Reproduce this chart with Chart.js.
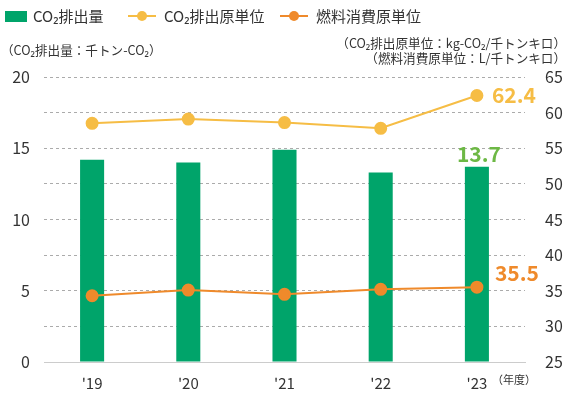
<!DOCTYPE html>
<html><head><meta charset="utf-8">
<script src="https://cdn.jsdelivr.net/npm/chart.js@4/dist/chart.umd.min.js"></script>
<style>html,body{margin:0;padding:0;background:#fff}#wrap{position:relative;width:568px;height:394px}</style>
</head><body><div id="wrap"><canvas id="c" width="568" height="394"></canvas></div>
<script>
const categories = ["'19", "'20", "'21", "'22", "'23"];
const co2Emissions = [14.2, 14.0, 14.9, 13.3, 13.7];
const co2Intensity = [58.5, 59.1, 58.6, 57.8, 62.4];
const fuelIntensity = [34.3, 35.1, 34.5, 35.2, 35.5];
const leftTicks = [0, 5, 10, 15, 20];
const rightTicks = [25, 30, 35, 40, 45, 50, 55, 60, 65];

const FONT = "'Noto Sans CJK JP', 'Noto Sans', sans-serif";
const GREEN = '#00A46A', YELLOW = '#F6BD45', ORANGE = '#EF8A2B';

const decor = {
  id: 'decor',
  afterDraw(chart) {
    const ctx = chart.ctx;
    ctx.save();
    ctx.textBaseline = 'middle';
    // legend
    ctx.fillStyle = GREEN; ctx.fillRect(5, 11, 22, 11);
    ctx.fillStyle = '#333'; ctx.font = '15px ' + FONT; ctx.textAlign = 'left';
    ctx.fillText('CO₂排出量', 33, 16);
    const lg = (x0, col, label) => {
      ctx.strokeStyle = col; ctx.lineWidth = 2;
      ctx.beginPath(); ctx.moveTo(x0, 16); ctx.lineTo(x0 + 28, 16); ctx.stroke();
      ctx.fillStyle = col; ctx.beginPath(); ctx.arc(x0 + 14, 16, 5, 0, Math.PI * 2); ctx.fill();
      ctx.fillStyle = '#333'; ctx.fillText(label, x0 + 36, 16);
    };
    lg(128, YELLOW, 'CO₂排出原単位');
    lg(280, ORANGE, '燃料消費原単位');
    // axis titles
    ctx.font = '12.6px ' + FONT; ctx.fillStyle = '#333';
    ctx.fillText('（CO₂排出量：千トン-CO₂）', 1, 50);
    ctx.textAlign = 'right';
    ctx.fillText('（CO₂排出原単位：kg-CO₂/千トンキロ）', 566, 43);
    ctx.fillText('（燃料消費原単位：L/千トンキロ）', 566, 58);
    ctx.font = '11px ' + FONT; ctx.textAlign = 'left';
    ctx.fillText('（年度）', 492, 380);
    // value labels
    const last = categories.length - 1;
    const xs = chart.scales.x, yl = chart.scales.y, yr = chart.scales.y2;
    ctx.font = 'bold 21px ' + FONT;
    ctx.textAlign = 'center';
    ctx.fillStyle = '#6DB845';
    ctx.fillText(co2Emissions[last].toFixed(1), xs.getPixelForValue(last) + 2, yl.getPixelForValue(co2Emissions[last]) - 13);
    ctx.textAlign = 'left';
    ctx.fillStyle = YELLOW;
    ctx.fillText(co2Intensity[last].toFixed(1), xs.getPixelForValue(last) + 15, yr.getPixelForValue(co2Intensity[last]) - 1);
    ctx.fillStyle = ORANGE;
    ctx.fillText(fuelIntensity[last].toFixed(1), xs.getPixelForValue(last) + 18, yr.getPixelForValue(fuelIntensity[last]) - 14);
    ctx.restore();
  }
};

new Chart(document.getElementById('c'), {
  data: {
    labels: categories,
    datasets: [
      { type: 'line', label: 'CO₂排出原単位', data: co2Intensity, yAxisID: 'y2', borderColor: YELLOW, backgroundColor: YELLOW, borderWidth: 2, pointRadius: 5.5, pointHoverRadius: 5.5, order: 1 },
      { type: 'line', label: '燃料消費原単位', data: fuelIntensity, yAxisID: 'y2', borderColor: ORANGE, backgroundColor: ORANGE, borderWidth: 2, pointRadius: 5.5, pointHoverRadius: 5.5, order: 2 },
      { type: 'bar', label: 'CO₂排出量', data: co2Emissions, yAxisID: 'y', backgroundColor: GREEN, barPercentage: 1, categoryPercentage: 0.25, order: 3 }
    ]
  },
  options: {
    responsive: false, animation: false,
    layout: { padding: { top: 77, left: 0, right: 0, bottom: 0 } },
    plugins: { legend: { display: false }, tooltip: { enabled: false } },
    scales: {
      x: {
        grid: { display: false },
        border: { color: '#cccccc', width: 1 },
        ticks: { color: '#333', font: { family: FONT, size: 15 }, padding: 4 },
        afterFit(s) { s.height = 32; }
      },
      y: {
        position: 'left', min: 0, max: 20,
        afterBuildTicks(s) { s.ticks = [0, 2.5, 5, 7.5, 10, 12.5, 15, 17.5, 20].map(v => ({ value: v })); },
        ticks: { color: '#333', font: { family: FONT, size: 16 }, padding: 14,
          callback: v => leftTicks.includes(v) ? String(v) : '' },
        grid: { color: c => c.tick.value === 0 ? 'rgba(0,0,0,0)' : '#ababab', borderDash: [3, 3], drawTicks: false, lineWidth: 1 },
        border: { display: false, dash: [3, 3] },
        afterFit(s) { s.width = 44; }
      },
      y2: {
        position: 'right', min: 25, max: 65,
        afterBuildTicks(s) { s.ticks = rightTicks.map(v => ({ value: v })); },
        ticks: { color: '#333', font: { family: FONT, size: 16 }, padding: 12 },
        grid: { display: false },
        border: { display: false },
        afterFit(s) { s.width = 43; }
      }
    }
  },
  plugins: [decor]
});
</script></body></html>
